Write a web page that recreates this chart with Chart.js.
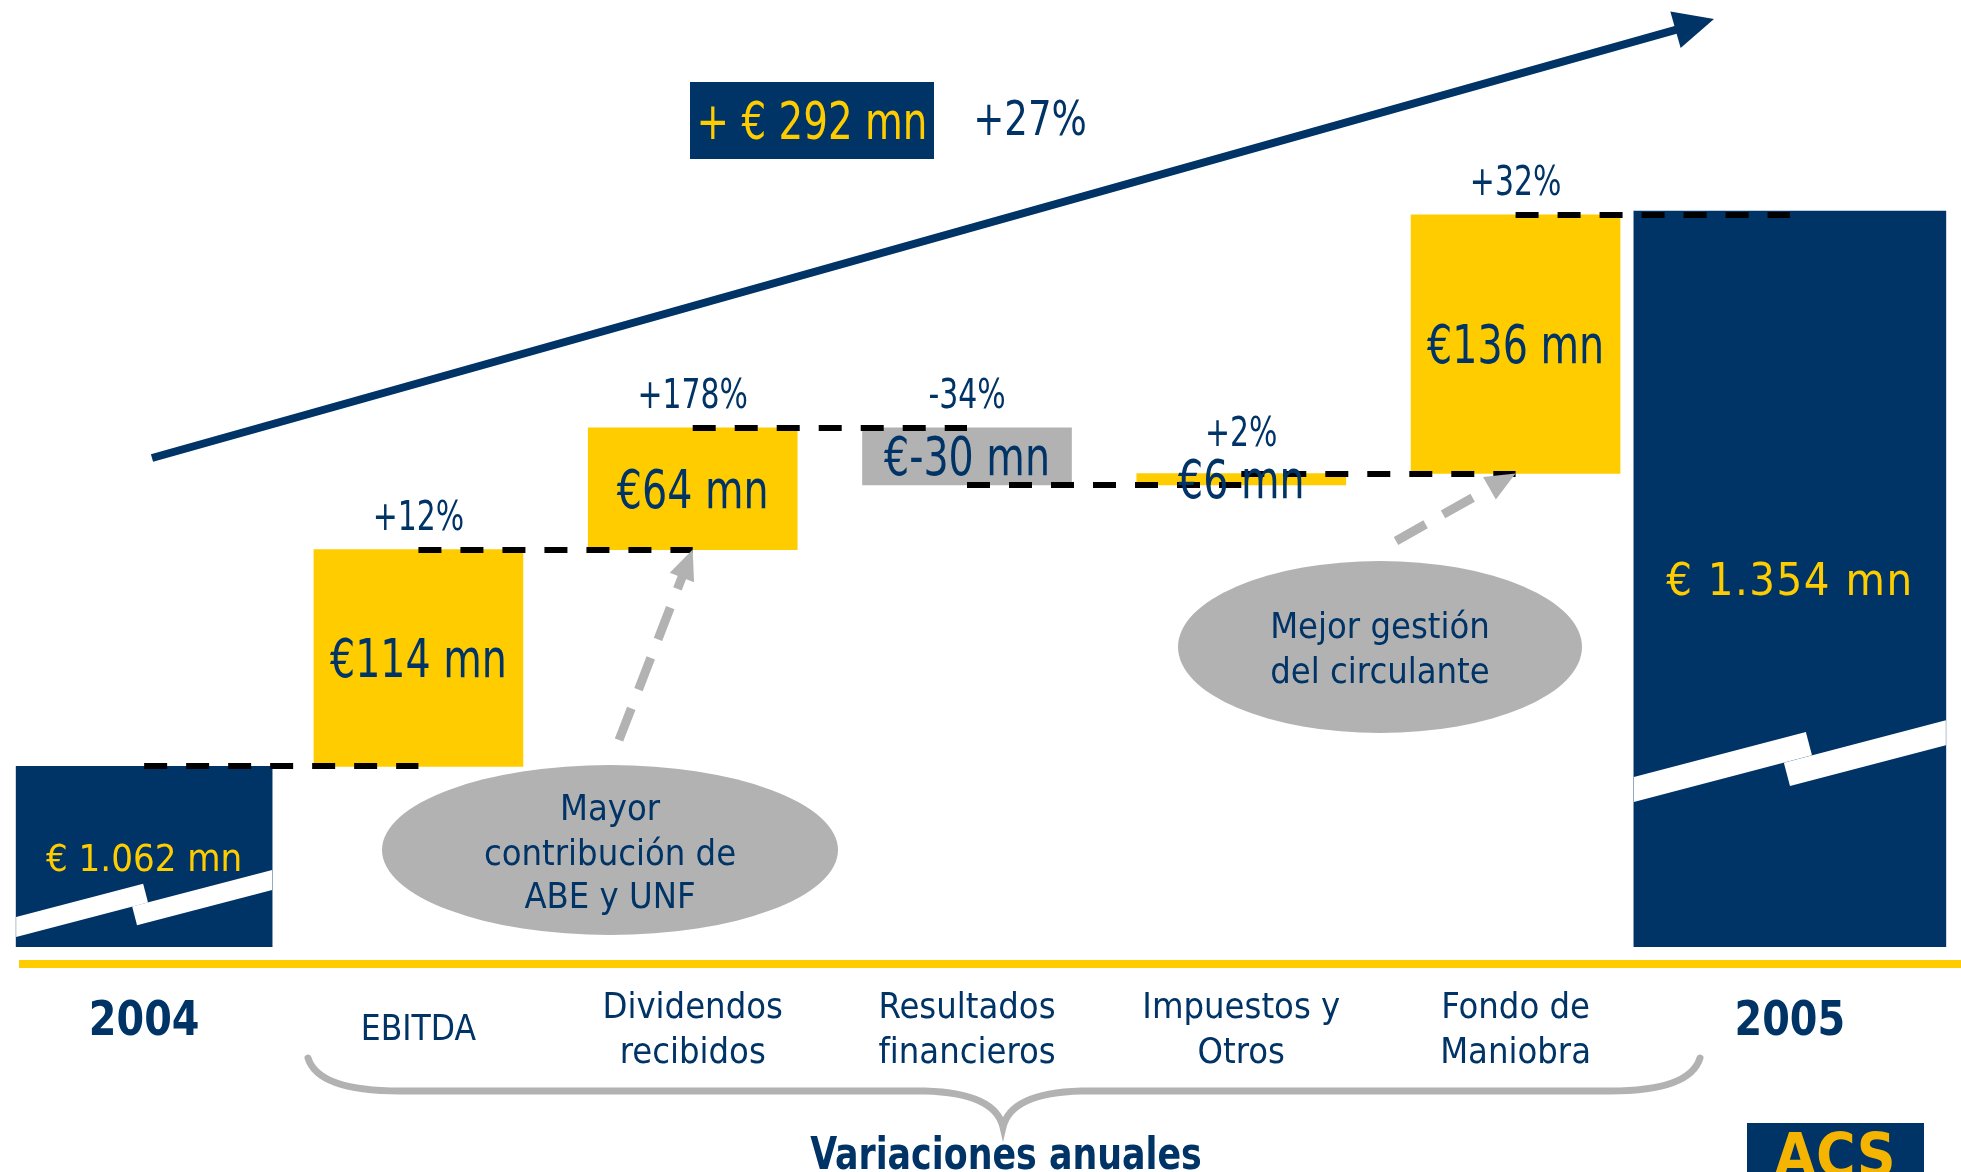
<!DOCTYPE html>
<html lang="es">
<head>
<meta charset="utf-8">
<title>Cash flow 2004 - 2005</title>
<script src="https://cdn.jsdelivr.net/npm/chart.js@4.4.1/dist/chart.umd.min.js"></script>
<style>
    html, body { margin: 0; padding: 0; background: #fff; }
    #chart { display: block; }
</style>
</head>
<body>
<canvas id="chart" width="1961" height="1172"></canvas>
<script>
// ---- data ----
const categories = [['2004'], ['EBITDA'], ['Dividendos', 'recibidos'], ['Resultados', 'financieros'], ['Impuestos y', 'Otros'], ['Fondo de', 'Maniobra'], ['2005']];
const startValue = 1062;
const endValue = 1354;
const changes = [114, 64, -30, 6, 136];
const changePct = ['+12%', '+178%', '-34%', '+2%', '+32%'];
const totalPct = '+27%';
const noteLeft = ['Mayor', 'contribución de', 'ABE y UNF'];
const noteRight = ['Mejor gestión', 'del circulante'];
const groupTitle = 'Variaciones anuales';

const NAVY = '#003366';
const YELLOW = '#FFCC00';
const GREY = '#B2B2B2';
const FONT = '"DejaVu Sans Condensed", "DejaVu Sans", sans-serif';

// running totals: 1062 -> ... -> after last change
const running = [startValue];
changes.forEach(c => running.push(running[running.length - 1] + c));

const last = categories.length - 1;
const startBars = categories.map((c, i) => i === 0 ? startValue : null);
const endBars = categories.map((c, i) => i === last ? endValue : null);
const changeBars = categories.map((c, i) => (i > 0 && i < last) ? [running[i - 1], running[i]] : null);

const thousands = v => String(v).replace(/\B(?=(\d{3})+(?!\d))/g, '.');

// text centred on x, sitting on baseline y
function text(ctx, str, x, y, size, color, o = {}) {
    ctx.save();
    ctx.font = (o.bold ? 'bold ' : '') + size + 'px ' + FONT;
    ctx.fillStyle = color;
    ctx.textAlign = 'center';
    ctx.textBaseline = 'alphabetic';
    if (o.spacing) ctx.letterSpacing = o.spacing + 'px';
    ctx.translate(x, y);
    ctx.scale(o.squeeze || 1, 1);
    ctx.fillText(str, 0, 0);
    ctx.restore();
}

// white "axis break" band across a total bar
function breakMark(ctx, el, bottom, lift, t, a, gap) {
    const L = el.x - el.width / 2, R = el.x + el.width / 2;
    const s = 0.262, k = t / (1 + s * s);
    const y0 = bottom - lift;
    const top = xx => y0 - s * (xx - L);
    ctx.save();
    ctx.fillStyle = '#fff';
    const x1 = L + a;
    ctx.beginPath();
    ctx.moveTo(L, y0);
    ctx.lineTo(x1, top(x1));
    ctx.lineTo(x1 + k * s, top(x1) + k);
    ctx.lineTo(L, y0 + t);
    ctx.closePath();
    ctx.fill();
    const x2 = L + a - gap;
    ctx.beginPath();
    ctx.moveTo(x2, top(x2) + t);
    ctx.lineTo(R, top(R) + t);
    ctx.lineTo(R, top(R) + 2 * t);
    ctx.lineTo(x2 + k * s, top(x2) + t + k);
    ctx.closePath();
    ctx.fill();
    ctx.restore();
}

function arrow(ctx, x0, y0, x1, y1, color, width, head, headW, dash) {
    const len = Math.hypot(x1 - x0, y1 - y0);
    const ux = (x1 - x0) / len, uy = (y1 - y0) / len;
    const bx = x1 - ux * head, by = y1 - uy * head;
    ctx.save();
    ctx.strokeStyle = color;
    ctx.fillStyle = color;
    ctx.lineWidth = width;
    if (dash) ctx.setLineDash(dash);
    ctx.beginPath();
    ctx.moveTo(x0, y0);
    ctx.lineTo(bx + ux * 2, by + uy * 2);
    ctx.stroke();
    ctx.beginPath();
    ctx.moveTo(x1, y1);
    ctx.lineTo(bx - uy * headW / 2, by + ux * headW / 2);
    ctx.lineTo(bx + uy * headW / 2, by - ux * headW / 2);
    ctx.closePath();
    ctx.fill();
    ctx.restore();
}

function note(ctx, lines, cx, cy, rx, ry, lineY) {
    ctx.save();
    ctx.fillStyle = GREY;
    ctx.beginPath();
    ctx.ellipse(cx, cy, rx, ry, 0, 0, Math.PI * 2);
    ctx.fill();
    ctx.restore();
    lines.forEach((l, i) => text(ctx, l, cx, lineY[i], 36, NAVY));
}

const decor = {
    id: 'waterfallDecor',
    afterDraw(chart) {
        const { ctx, chartArea } = chart;
        const xs = chart.scales.x, ys = chart.scales.y;
        const cx = i => xs.getPixelForValue(i);
        const cy = v => ys.getPixelForValue(v);
        const startEl = chart.getDatasetMeta(0).data[0];
        const endEl = chart.getDatasetMeta(2).data[last];

        breakMark(ctx, startEl, chartArea.bottom, 30, 20, 127, 11);
        breakMark(ctx, endEl, chartArea.bottom, 170, 25, 172, 22);

        // dashed connectors at each running total
        ctx.save();
        ctx.strokeStyle = '#000';
        ctx.lineWidth = 6;
        ctx.setLineDash([23, 19]);
        running.forEach((v, i) => {
            const yy = Math.round(cy(v));
            ctx.beginPath();
            ctx.moveTo(cx(i), yy);
            ctx.lineTo(cx(i + 1), yy);
            ctx.stroke();
        });
        ctx.restore();

        // values inside the change bars, % above them
        changes.forEach((c, i) => {
            const a = cy(running[i]), b = cy(running[i + 1]);
            const base = (a + b) / 2 + 19;
            text(ctx, '€' + c + ' mn', cx(i + 1), base, 53, NAVY, { squeeze: 0.83 });
            const pctBase = Math.min(Math.min(a, b) - 20, base - 52);
            text(ctx, changePct[i], cx(i + 1), pctBase, 40, NAVY, { squeeze: 0.83 });
        });

        // totals
        text(ctx, '€ ' + thousands(startValue) + ' mn', cx(0), (cy(startValue) + chartArea.bottom) / 2 + 14, 38, YELLOW);
        text(ctx, '€ ' + thousands(endValue) + ' mn', cx(last), (cy(endValue) + chartArea.bottom) / 2 + 16, 45, YELLOW, { spacing: 1.5 });

        // base line
        ctx.fillStyle = YELLOW;
        ctx.fillRect(19, 960, 1942, 8);

        // category labels
        categories.forEach((lines, i) => {
            if (i === 0 || i === last) {
                text(ctx, lines[0], cx(i), 1035, 48, NAVY, { bold: true, squeeze: 0.92 });
            } else if (lines.length === 1) {
                text(ctx, lines[0], cx(i), 1040, 35, NAVY);
            } else {
                text(ctx, lines[0], cx(i), 1018, 36, NAVY);
                text(ctx, lines[1], cx(i), 1063, 36, NAVY);
            }
        });

        // brace over the yearly changes
        ctx.save();
        ctx.strokeStyle = GREY;
        ctx.lineWidth = 7;
        ctx.lineCap = 'round';
        ctx.beginPath();
        ctx.moveTo(308, 1058);
        ctx.quadraticCurveTo(318, 1091, 400, 1091);
        ctx.lineTo(925, 1091);
        ctx.quadraticCurveTo(995, 1093, 1003, 1127);
        ctx.quadraticCurveTo(1011, 1093, 1081, 1091);
        ctx.lineTo(1610, 1091);
        ctx.quadraticCurveTo(1690, 1091, 1700, 1058);
        ctx.stroke();
        ctx.restore();
        text(ctx, groupTitle, 1006, 1169, 44, NAVY, { bold: true, squeeze: 0.88 });

        // overall change
        ctx.fillStyle = NAVY;
        ctx.fillRect(690, 82, 244, 77);
        text(ctx, '+ € ' + (endValue - startValue) + ' mn', 812, 139, 52, YELLOW, { squeeze: 0.83 });
        text(ctx, totalPct, 1030, 135, 48, NAVY, { squeeze: 0.86 });
        arrow(ctx, 152, 458, 1714, 19, NAVY, 8, 40, 38);

        // call-outs
        note(ctx, noteLeft, 610, 850, 228, 85, [820, 865, 908]);
        arrow(ctx, 619, 740, cx(2), cy(running[1]), GREY, 9, 30, 26, [34, 20]);
        note(ctx, noteRight, 1380, 647, 202, 86, [638, 683]);
        arrow(ctx, 1396, 541, cx(5), cy(running[4]), GREY, 9, 30, 26, [34, 20]);

        // logo
        ctx.fillStyle = NAVY;
        ctx.fillRect(1747, 1123, 177, 60);
        text(ctx, 'ACS', 1835, 1176, 60, '#F5B400', { bold: true });
    }
};

new Chart(document.getElementById('chart'), {
    type: 'bar',
    data: {
        labels: categories.map(l => l.join(' ')),
        datasets: [
            { label: '2004', data: startBars, backgroundColor: NAVY, barThickness: 256, grouped: false },
            {
                label: 'Variaciones',
                data: changeBars,
                backgroundColor: c => (changes[c.dataIndex - 1] >= 0 ? YELLOW : GREY),
                barThickness: 209,
                grouped: false
            },
            {
                label: '2005',
                data: endBars,
                backgroundColor: NAVY,
                barThickness: 312,
                grouped: false,
                // let the last bar run off the right edge, still cut at the axis bottom
                clip: { left: 0, top: 0, right: false, bottom: 0 }
            }
        ]
    },
    options: {
        responsive: false,
        animation: false,
        devicePixelRatio: 1,
        layout: { padding: { left: 7, right: 34, top: 0, bottom: 225 } },
        plugins: { legend: { display: false }, tooltip: { enabled: false } },
        scales: {
            x: { display: false, offset: true },
            y: { display: false, min: 967, max: 1465 }
        }
    },
    plugins: [decor]
});
</script>
</body>
</html>
